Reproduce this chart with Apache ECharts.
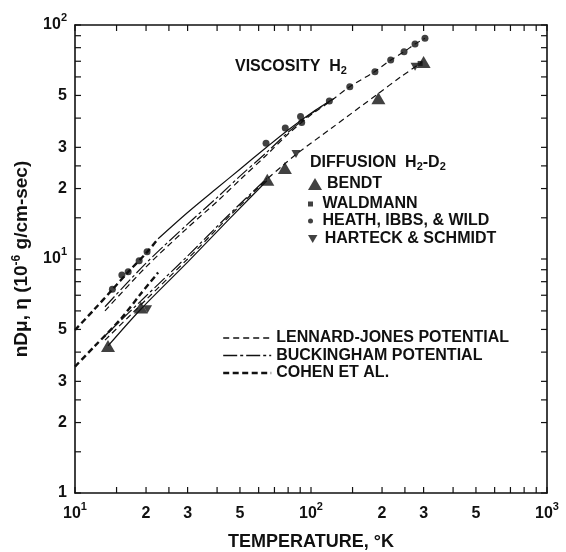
<!DOCTYPE html>
<html><head><meta charset="utf-8">
<script src="https://cdn.jsdelivr.net/npm/echarts@6/dist/echarts.min.js"></script>
<style>html,body{margin:0;padding:0;background:#fff}#c{width:566px;height:552px}</style>
</head><body><div id="c"></div>
<script>
// ---------- data ----------
const xTickValues = [10,15,20,25,30,40,50,60,70,80,90,100,150,200,250,300,400,500,600,700,800,900,1000];
const xLabelValues = [10,20,30,50,100,200,300,500,1000];
const yTickValues = [1,1.5,2,2.5,3,4,5,6,7,8,9,10,15,20,25,30,40,50,60,70,80,90,100];
const yLabelValues = [1,2,3,5,10,20,30,50,100];

// viscosity H2 measured points
const visDotT = [14.4, 15.8, 16.8, 18.7, 20.2, 64.5, 77.8, 90.3, 91.3, 119.6, 146, 186.6, 217.6, 247.9, 275.9, 304];
const visDotV = [7.42, 8.55, 8.83, 9.83, 10.74, 31.2, 36.3, 40.6, 38.3, 47.3, 54.5, 63.2, 70.9, 76.9, 82.9, 87.7];
// diffusion H2-D2 measured points
const bendtT = [13.8, 19.0, 65.3, 77.5, 193, 300];
const bendtV = [4.25, 6.2, 21.8, 24.5, 48.6, 69.5];
const waldmannT = [290];
const waldmannV = [68.5];
const heathT = [];
const heathV = [];
const harteckT = [20.3, 86.4, 276];
const harteckV = [6.1, 28.1, 66.3];

// viscosity curves
const vCohenT = [10, 12, 14.4, 16.8, 20.2, 22.5];
const vCohenV = [4.97, 6.05, 7.4, 8.8, 10.7, 12.2];
const vSolidT = [22.5, 30, 40, 50, 65, 80, 100, 125];
const vSolidV = [12.2, 15.8, 20.1, 24.2, 30.1, 35.6, 42.0, 48.5];
const vLJT = [13.4, 20, 30, 40, 50, 65, 80, 100, 120, 146, 186, 218, 248, 276, 304];
const vLJV = [6.0, 9.25, 13.6, 17.6, 21.8, 27.9, 34.2, 41.3, 47.0, 54.5, 63.2, 70.9, 76.9, 82.9, 87.7];
const vBuckT = [13.4, 20, 30, 40, 50, 65, 80, 100, 120];
const vBuckV = [6.25, 9.6, 14.1, 18.3, 22.6, 28.6, 34.8, 41.7, 47.2];
// diffusion curves
const dCohenT = [10, 12, 15.5, 19, 22.5];
const dCohenV = [3.47, 4.2, 5.49, 7.1, 8.75];
const dSolidT = [13.8, 19, 30, 45, 65];
const dSolidV = [4.25, 6.1, 9.7, 14.8, 21.6];
const dLJT = [13.4, 20, 30, 45, 65, 77, 86, 122, 193, 240, 295];
const dLJV = [4.5, 6.7, 10.0, 15.2, 21.9, 25.4, 27.9, 36.2, 51.0, 60.0, 69.3];
const dBuckT = [13.4, 20, 30, 45, 65];
const dBuckV = [4.7, 6.95, 10.3, 15.5, 22.1];

// ---------- helpers ----------
const zip = (a, b) => a.map((v, i) => [v, b[i]]);
const INK = '#111';
const FONT = 'Liberation Sans';
const supLabel = v => {
  if (v === 10) return '{m|10}{s|1}';
  if (v === 100) return '{m|10}{s|2}';
  if (v === 1000) return '{m|10}{s|3}';
  const d = v / Math.pow(10, Math.floor(Math.log10(v) + 1e-9));
  return '{m|' + Math.round(d) + '}';
};
const labelRich = {
  m: {fontFamily: FONT, fontSize: 16, fontWeight: 'bold', color: INK, lineHeight: 26},
  s: {fontFamily: FONT, fontSize: 11, fontWeight: 'bold', color: INK, lineHeight: 11, verticalAlign: 'top'}
};
function axisBase(pos, isX, showLabel) {
  return {
    type: 'log', logBase: 10,
    min: isX ? 10 : 1, max: isX ? 1000 : 100,
    position: pos,
    axisLine: {show: true, onZero: false, lineStyle: {color: INK, width: 1.6}},
    axisTick: {show: false},
    minorTick: {show: false},
    splitLine: {show: false},
    axisLabel: showLabel ? {
      show: true, customValues: isX ? xLabelValues : yLabelValues,
      formatter: supLabel, margin: 8, rich: labelRich, color: INK
    } : {show: false}
  };
}
const xBottom = Object.assign(axisBase('bottom', true, true), {
  name: 'TEMPERATURE, °K', nameLocation: 'middle', nameGap: 40,
  nameTextStyle: {fontFamily: FONT, fontSize: 18, fontWeight: 'bold', color: INK}
});
const yLeft = Object.assign(axisBase('left', false, true), {
  name: '{b|nDμ, η (10}{s|-6}{b| g/cm-sec)}', nameLocation: 'middle', nameGap: 42, nameRotate: 90,
  nameTextStyle: {
    rich: {
      b: {fontFamily: FONT, fontSize: 19, fontWeight: 'bold', color: INK, lineHeight: 22},
      s: {fontFamily: FONT, fontSize: 12, fontWeight: 'bold', color: INK, lineHeight: 12, verticalAlign: 'top'}
    }
  }
});
const xTop = axisBase('top', true, false);
const yRight = axisBase('right', false, false);

function lineSeries(name, T, V, style) {
  return {
    name: name, type: 'line', data: zip(T, V), showSymbol: false, symbol: 'none',
    smooth: 0.3, silent: true, z: 2, itemStyle: {color: INK},
    lineStyle: Object.assign({color: INK, width: 1.2}, style)
  };
}
// tick marks drawn inward on all four sides at the tick values, positioned by the axes
const TICK = 6;
const xTickSeries = {
  type: 'custom', silent: true, clip: false, z: 6,
  data: xTickValues.map(v => [v, 1]),
  renderItem: (params, api) => {
    const v = api.value(0);
    const b = api.coord([v, 1]);
    const t = api.coord([v, 100]);
    const st = {stroke: INK, lineWidth: 1.2};
    return {type: 'group', children: [
      {type: 'line', shape: {x1: b[0], y1: b[1], x2: b[0], y2: b[1] - TICK}, style: st},
      {type: 'line', shape: {x1: t[0], y1: t[1], x2: t[0], y2: t[1] + TICK}, style: st}
    ]};
  }
};
const yTickSeries = {
  type: 'custom', silent: true, clip: false, z: 6,
  data: yTickValues.map(v => [10, v]),
  renderItem: (params, api) => {
    const v = api.value(1);
    const l = api.coord([10, v]);
    const r = api.coord([1000, v]);
    const st = {stroke: INK, lineWidth: 1.2};
    return {type: 'group', children: [
      {type: 'line', shape: {x1: l[0], y1: l[1], x2: l[0] + TICK, y2: l[1]}, style: st},
      {type: 'line', shape: {x1: r[0], y1: r[1], x2: r[0] - TICK, y2: r[1]}, style: st}
    ]};
  }
};

const LJ = 'LENNARD-JONES POTENTIAL', BK = 'BUCKINGHAM POTENTIAL', CO = 'COHEN ET AL.';
const ljStyle = {width: 1.2, type: [6, 4]};
const bkStyle = {width: 1.2, type: [14, 3, 3, 3]};
const coStyle = {width: 2.4, type: [6, 3.5]};

const textFont = {fontFamily: FONT, fontSize: 16, fontWeight: 'bold', color: INK, lineHeight: 16};
function markerLegend(name, top, h, icon) {
  const d = {name: name};
  if (icon) d.icon = icon;
  return {
    data: [d], orient: 'vertical', left: 308, top: top, itemWidth: 14, itemHeight: h,
    selectedMode: false, textStyle: textFont, symbolKeepAspect: true, padding: 0
  };
}

const option = {
  animation: false,
  backgroundColor: '#fff',
  grid: {left: 75, right: 19, top: 25, bottom: 59, outerBoundsMode: 'none', containLabel: false},
  xAxis: [xBottom, xTop],
  yAxis: [yLeft, yRight],
  legend: [
    markerLegend('BENDT', 176, 12),
    markerLegend('WALDMANN', 196, 5, 'path://M0,0L1,0L1,1L0,1Z'),
    markerLegend('HEATH, IBBS, & WILD', 213, 5),
    markerLegend('HARTECK & SCHMIDT', 231, 8, 'path://M0,0L2,0L1,1.7Z'),
    {
      data: [
        {name: LJ, lineStyle: {color: INK, width: 1.5, type: [6, 4]}},
        {name: BK, lineStyle: {color: INK, width: 1.5, type: [14, 3, 3, 3]}},
        {name: CO, lineStyle: {color: INK, width: 2.4, type: [6, 3.5]}}
      ],
      orient: 'vertical', left: 222, top: 330, itemWidth: 48, itemHeight: 10,
      itemGap: 1.5, selectedMode: false, textStyle: textFont, padding: 0,
      itemStyle: {color: 'transparent', borderWidth: 0, opacity: 0}
    }
  ],
  graphic: [
    {type: 'text', left: 235, top: 59, silent: true,
     style: {text: 'VISCOSITY  H{sub|2}', fill: INK, font: 'bold 16px "Liberation Sans"',
             rich: {sub: {fontFamily: FONT, fontSize: 11, fontWeight: 'bold', fill: INK, verticalAlign: 'bottom', padding: [8, 0, 0, 0]}}}},
    {type: 'text', left: 310, top: 155, silent: true,
     style: {text: 'DIFFUSION  H{sub|2}-D{sub|2}', fill: INK, font: 'bold 16px "Liberation Sans"',
             rich: {sub: {fontFamily: FONT, fontSize: 11, fontWeight: 'bold', fill: INK, verticalAlign: 'bottom', padding: [8, 0, 0, 0]}}}}
  ],
  series: [
    lineSeries(CO, vCohenT, vCohenV, coStyle),
    lineSeries('solid-v', vSolidT, vSolidV, {}),
    lineSeries(LJ, vLJT, vLJV, ljStyle),
    lineSeries(BK, vBuckT, vBuckV, bkStyle),
    lineSeries(CO, dCohenT, dCohenV, coStyle),
    lineSeries('solid-d', dSolidT, dSolidV, {}),
    lineSeries(LJ, dLJT, dLJV, ljStyle),
    lineSeries(BK, dBuckT, dBuckV, bkStyle),
    {name: 'VISCOSITY', type: 'scatter', data: zip(visDotT, visDotV), symbol: 'circle', symbolSize: 7,
     itemStyle: {color: INK}, z: 5, silent: true},
    {name: 'BENDT', type: 'scatter', data: zip(bendtT, bendtV), symbol: 'triangle', symbolSize: [14, 12],
     itemStyle: {color: INK}, z: 5, silent: true},
    {name: 'WALDMANN', type: 'scatter', data: zip(waldmannT, waldmannV), symbol: 'rect', symbolSize: 5,
     itemStyle: {color: INK}, z: 5, silent: true},
    {name: 'HEATH, IBBS, & WILD', type: 'scatter', data: zip(heathT, heathV), symbol: 'circle', symbolSize: 5,
     itemStyle: {color: INK}, z: 5, silent: true},
    {name: 'HARTECK & SCHMIDT', type: 'scatter', data: zip(harteckT, harteckV), symbol: 'triangle', symbolRotate: 180,
     symbolSize: [9, 8], itemStyle: {color: INK}, z: 5, silent: true},
    xTickSeries,
    yTickSeries
  ]
};
const chart = echarts.init(document.getElementById('c'), null, {renderer: 'canvas'});
chart.setOption(option);
</script>
</body></html>
